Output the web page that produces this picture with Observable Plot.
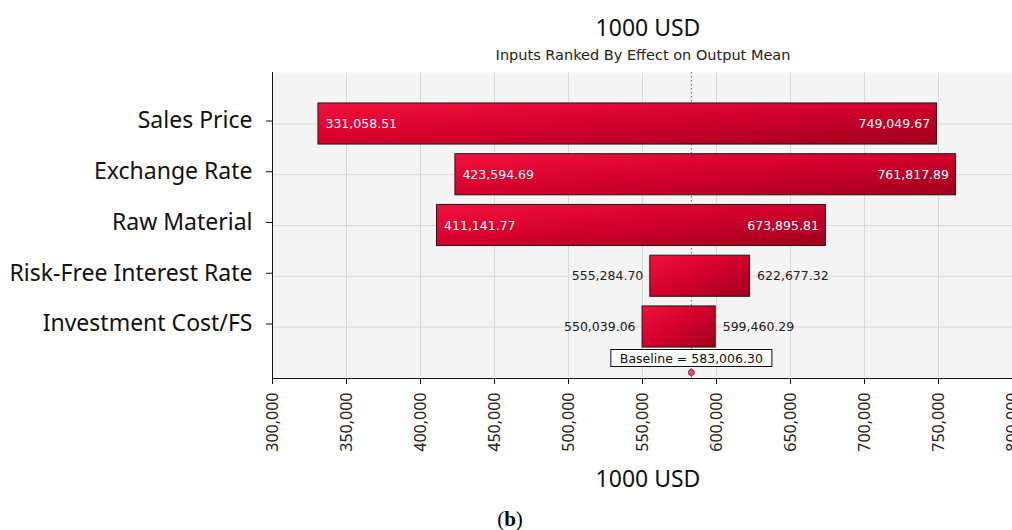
<!DOCTYPE html>
<html>
<head>
<meta charset="utf-8">
<script src="https://cdn.jsdelivr.net/npm/d3@7"></script>
<script src="https://cdn.jsdelivr.net/npm/@observablehq/plot@0.6"></script>
<style>
  html, body { margin: 0; padding: 0; background: #fff; }
  #wrap { position: relative; width: 1012px; height: 530px; overflow: hidden; }
  .lbl { position: absolute; white-space: nowrap; line-height: 1; transform: translateX(-50%); color: #111; }
  #chart { position: absolute; left: 0; top: 62px; }
</style>
</head>
<body>
<div id="wrap">
  <div class="lbl" style="left:648px; top:11px; font: 23px 'Noto Sans';">1000 USD</div>
  <div class="lbl" style="left:643px; top:47px; font: 14.5px 'DejaVu Sans'; color:#222;">Inputs Ranked By Effect on Output Mean</div>
  <div id="chart"></div>
  <div class="lbl" style="left:648px; top:462px; font: 23px 'Noto Sans';">1000 USD</div>
  <div class="lbl" style="left:510px; top:507px; font: 21px 'Liberation Serif'; color:#000;">(<b>b</b>)</div>
</div>
<script>
// ---- data ----
const categories = ["Sales Price", "Exchange Rate", "Raw Material", "Risk-Free Interest Rate", "Investment Cost/FS"];
const lowValues  = [331058.51, 423594.69, 411141.77, 555284.70, 550039.06];
const highValues = [749049.67, 761817.89, 673895.81, 622677.32, 599460.29];
const baseline = 583006.30;
const xTicks = [300000, 350000, 400000, 450000, 500000, 550000, 600000, 650000, 700000, 750000, 800000];

const rows = categories.map((name, i) => ({name, low: lowValues[i], high: highValues[i]}));
const fmt = d3.format(",.2f");
const isWide = d => (d.high - d.low) > 100000;
const wide = rows.filter(isWide);
const narrow = rows.filter(d => !isWide(d));

const labelFont = "DejaVu Sans";
const chart = Plot.plot({
  width: 1012,
  height: 400,
  marginLeft: 272,
  marginRight: 0,
  marginTop: 10,
  marginBottom: 84,
  style: {background: "transparent", fontFamily: "Noto Sans", color: "#111", overflow: "hidden"},
  x: {domain: [300000, 800000]},
  y: {domain: categories, paddingInner: 0.19, paddingOuter: 0.61, round: false},
  marks: [
    Plot.frame({fill: "#f4f4f4", stroke: null}),
    Plot.gridX(xTicks, {stroke: "#d9d9d9", strokeOpacity: 1}),
    Plot.gridY({stroke: "#d9d9d9", strokeOpacity: 1}),
    Plot.ruleX([baseline], {stroke: "#c8406a", strokeWidth: 1, strokeDasharray: "1.5,2.5"}),
    Plot.barX(rows, {x1: "low", x2: "high", y: "name", fill: "url(#barGrad)", stroke: "#1a1a1a", strokeWidth: 1}),
    Plot.text(wide, {x: "low", y: "name", text: d => fmt(d.low), textAnchor: "start", dx: 7, fill: "#fff", fontFamily: labelFont, fontSize: 12.5}),
    Plot.text(wide, {x: "high", y: "name", text: d => fmt(d.high), textAnchor: "end", dx: -7, fill: "#fff", fontFamily: labelFont, fontSize: 12.5}),
    Plot.text(narrow, {x: "low", y: "name", text: d => fmt(d.low), textAnchor: "end", dx: -7, fill: "#222", fontFamily: labelFont, fontSize: 12.5}),
    Plot.text(narrow, {x: "high", y: "name", text: d => fmt(d.high), textAnchor: "start", dx: 7, fill: "#222", fontFamily: labelFont, fontSize: 12.5}),
    Plot.axisX(xTicks, {tickRotate: -90, tickSize: 6, tickPadding: 8, fontSize: 16, tickFormat: d3.format(","), label: null, fill: "#222"}),
    Plot.axisY({tickSize: 6, tickPadding: 14, fontSize: 23, label: null, fill: "#111", dy: -3}),
    Plot.frame({anchor: "left", stroke: "#111"}),
    Plot.frame({anchor: "bottom", stroke: "#111"}),
    Plot.text([baseline], {x: d => d, frameAnchor: "bottom", lineAnchor: "middle", dy: -20, text: d => `Baseline = ${fmt(d)}`, fill: "#111", fontFamily: labelFont, fontSize: 12.5}),
    Plot.dot([baseline], {x: d => d, frameAnchor: "bottom", dy: -6, r: 3, fill: "#e0506e", stroke: "#902040", strokeWidth: 1})
  ]
});

document.getElementById("chart").appendChild(chart);

// gradient definition for the bars
const svgNode = chart.tagName.toLowerCase() === "svg" ? chart : chart.querySelector("svg");
const svg = d3.select(svgNode);
const defs = svg.insert("defs", ":first-child");
const grad = defs.append("linearGradient").attr("id", "barGrad")
  .attr("x1", 0).attr("y1", 0).attr("x2", 1).attr("y2", 1);
grad.append("stop").attr("offset", 0).attr("stop-color", "#f3103e");
grad.append("stop").attr("offset", 0.5).attr("stop-color", "#d2002c");
grad.append("stop").attr("offset", 1).attr("stop-color", "#a0001c");

// white box behind the baseline label
const svgRect = svgNode.getBoundingClientRect();
Array.from(svgNode.querySelectorAll("text")).forEach(t => {
  if (!t.textContent.startsWith("Baseline")) return;
  const r = t.getBoundingClientRect();
  // find the mark group that is a direct child of the svg
  let g = t;
  while (g.parentNode && g.parentNode !== svgNode) g = g.parentNode;
  const rect = document.createElementNS("http://www.w3.org/2000/svg", "rect");
  rect.setAttribute("x", r.left - svgRect.left - 9);
  rect.setAttribute("y", r.top - svgRect.top - 1);
  rect.setAttribute("width", r.width + 18);
  rect.setAttribute("height", r.height + 2);
  rect.setAttribute("fill", "#fff");
  rect.setAttribute("stroke", "#111");
  rect.setAttribute("stroke-width", 1);
  svgNode.insertBefore(rect, g);
});
</script>
</body>
</html>
